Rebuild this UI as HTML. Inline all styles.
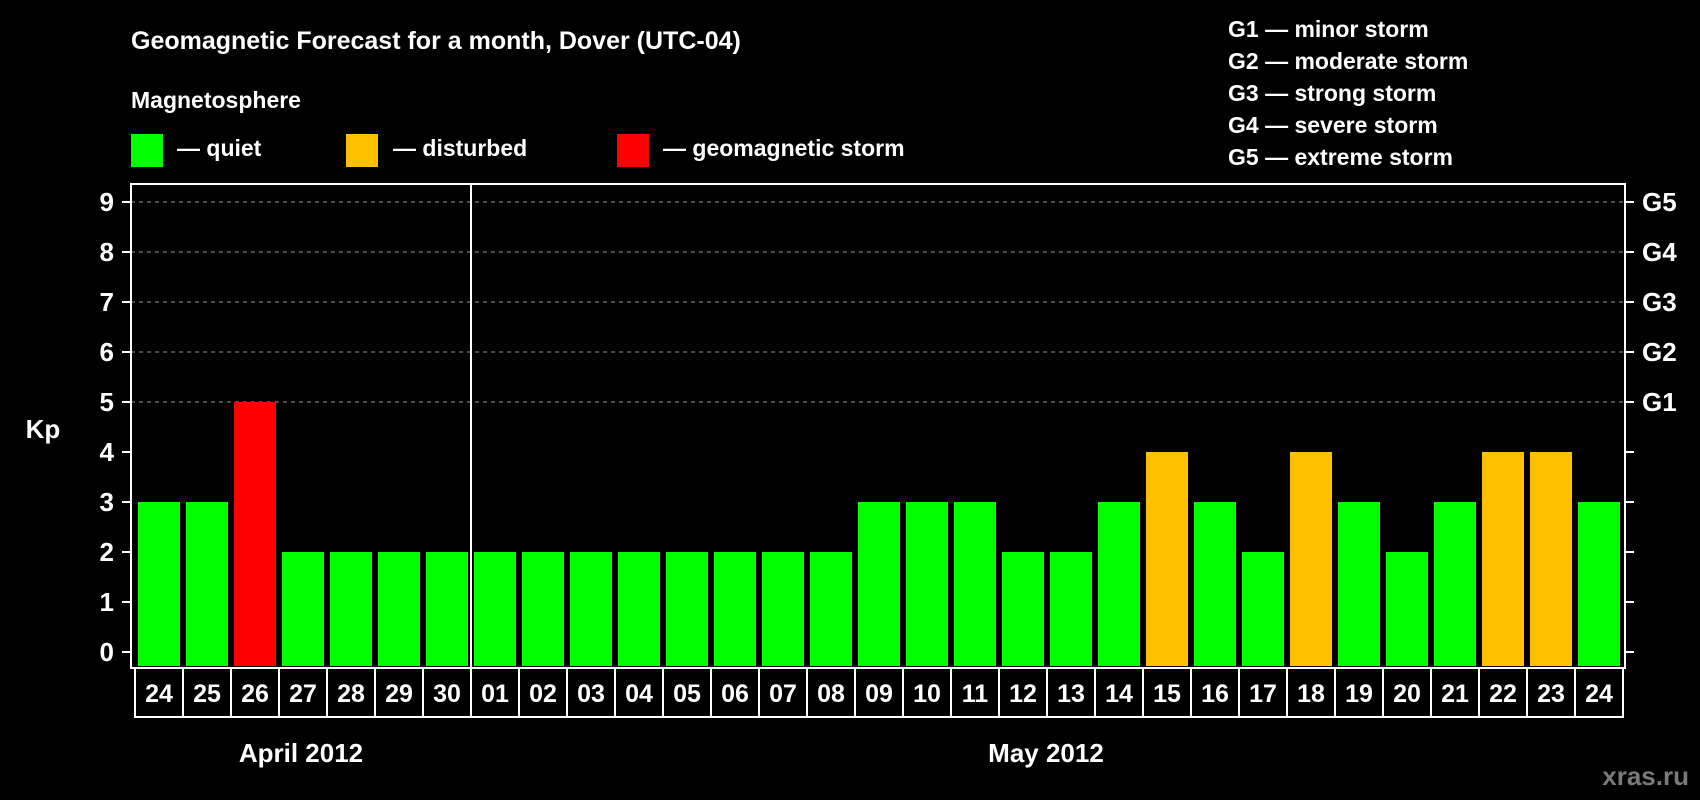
<!DOCTYPE html>
<html><head><meta charset="utf-8"><style>
html,body{margin:0;padding:0;background:#000;}
svg{display:block;font-family:"Liberation Sans",sans-serif;font-weight:bold;}
</style></head><body>
<svg id="chart" width="1700" height="800" viewBox="0 0 1700 800">
<text x="131" y="49" fill="#fff" font-size="25">Geomagnetic Forecast for a month, Dover (UTC-04)</text>
<text x="131" y="108" fill="#fff" font-size="23">Magnetosphere</text>
<g><rect x="131" y="134" width="32" height="33" fill="#00ff00"/><text x="177" y="156" fill="#fff" font-size="23">— quiet</text></g>
<g><rect x="346" y="134" width="32" height="33" fill="#ffc000"/><text x="393" y="156" fill="#fff" font-size="23">— disturbed</text></g>
<g><rect x="617" y="134" width="32" height="33" fill="#ff0000"/><text x="663" y="156" fill="#fff" font-size="23">— geomagnetic storm</text></g>
<g fill="#fff" font-size="23">
<text x="1228" y="37">G1 — minor storm</text>
<text x="1228" y="69">G2 — moderate storm</text>
<text x="1228" y="101">G3 — strong storm</text>
<text x="1228" y="133">G4 — severe storm</text>
<text x="1228" y="165">G5 — extreme storm</text>
</g>
<text x="43" y="438" fill="#fff" font-size="26" text-anchor="middle">Kp</text>
<g id="grid"></g><g id="bars"></g><g id="axes"></g><g id="dates"></g>
<text x="301" y="762" fill="#fff" font-size="26" text-anchor="middle">April 2012</text>
<text x="1046" y="762" fill="#fff" font-size="26" text-anchor="middle">May 2012</text>
<text x="1689" y="785" fill="#7a7a7a" font-size="26" text-anchor="end">xras.ru</text>
</svg>
<script>
const days = ["24","25","26","27","28","29","30","01","02","03","04","05","06","07","08","09","10","11","12","13","14","15","16","17","18","19","20","21","22","23","24"];
const kpValues = [3,3,5,2,2,2,2,2,2,2,2,2,2,2,2,3,3,3,2,2,3,4,3,2,4,3,2,3,4,4,3];
const yTicks = [0,1,2,3,4,5,6,7,8,9];
const gLabels = ["G1","G2","G3","G4","G5"];
const gLevels = [5,6,7,8,9];
const NS="http://www.w3.org/2000/svg";
const y0=652, unit=50, slot=48, x0=135;
const yS=v=>y0-v*unit;
const xS=i=>x0+i*slot;
function mk(t,a,p){const e=document.createElementNS(NS,t);for(const k in a)e.setAttribute(k,a[k]);p.appendChild(e);return e;}
const grid=document.getElementById('grid'),bars=document.getElementById('bars'),axes=document.getElementById('axes'),dates=document.getElementById('dates');
yTicks.forEach(v=>{
  if(v>0&&v>=5){const l=mk('line',{x1:131,x2:1625,y1:yS(v),y2:yS(v),stroke:'#999','stroke-dasharray':'4,4','stroke-width':1},grid);
  
  }
  const t=mk('line',{x1:122,x2:131,y1:yS(v),y2:yS(v),stroke:'#fff','stroke-width':2},axes);
  
  
  const r=mk('line',{x1:1625,x2:1634,y1:yS(v),y2:yS(v),stroke:'#fff','stroke-width':2},axes);
  
  
  const lb=mk('text',{x:114,y:yS(v)+9,fill:'#fff','font-size':26,'text-anchor':'end'},axes);
  lb.textContent=v;
  
  
});
gLabels.forEach((g,i)=>{
  const t=mk('text',{x:1642,y:yS(gLevels[i])+9,fill:'#fff','font-size':26},axes);
  t.textContent=g;
  
  
});
kpValues.forEach((v,i)=>{
  const c=v>=5?'#ff0000':(v>=4?'#ffc000':'#00ff00');
  const b=mk('rect',{x:xS(i)+3,y:yS(v),width:42,height:y0-yS(v)+14,fill:c},bars);
  
  
});
const frame=mk('rect',{x:131,y:184,width:1494,height:484,fill:'none',stroke:'#fff','stroke-width':2},axes);


const div=mk('line',{x1:xS(7),x2:xS(7),y1:184,y2:668,stroke:'#fff','stroke-width':2},axes);


days.forEach((d,i)=>{
  const r=mk('rect',{x:xS(i),y:668,width:slot,height:49,fill:'#000',stroke:'#fff','stroke-width':2},dates);
  
  
  const t=mk('text',{x:xS(i)+slot/2,y:702,fill:'#fff','font-size':25,'text-anchor':'middle'},dates);
  t.textContent=d;
  
  
});
</script>
</body></html>
